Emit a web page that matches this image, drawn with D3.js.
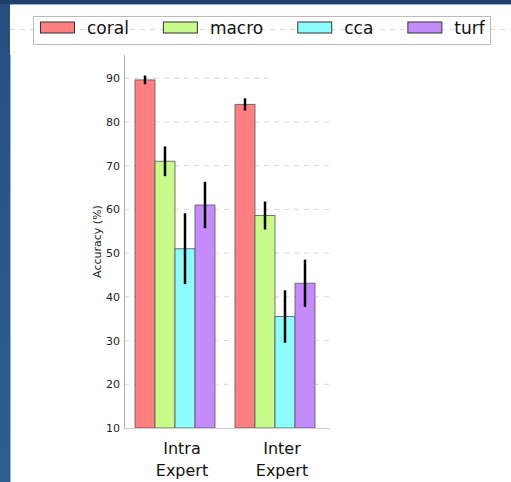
<!DOCTYPE html>
<html>
<head>
<meta charset="utf-8">
<script src="https://cdn.jsdelivr.net/npm/d3@7"></script>
<style>
  html, body { margin: 0; padding: 0; background: #fff; }
  svg { display: block; font-family: "DejaVu Sans", sans-serif; }
</style>
</head>
<body>
<div id="chart"></div>
<script>
// data
var categories = ["Intra Expert", "Inter Expert"];
var seriesNames = ["coral", "macro", "cca", "turf"];
var seriesColors = ["#ff8080", "#c8fa8c", "#8cfcfc", "#c48cfa"];
var intraValues = [89.6, 71.0, 51.0, 61.0];
var intraErrors = [1.0, 3.4, 8.1, 5.3];
var interValues = [84.0, 58.6, 35.5, 43.1];
var interErrors = [1.4, 3.2, 6.0, 5.4];
var yTicks = [10, 20, 30, 40, 50, 60, 70, 80, 90];

var width = 511, height = 482;

var rows = [];
[intraValues, interValues].forEach(function (vals, gi) {
    var errs = gi === 0 ? intraErrors : interErrors;
    vals.forEach(function (v, si) {
        rows.push({ cat: categories[gi], series: seriesNames[si], value: v, err: errs[si], color: seriesColors[si] });
    });
});

var svg = d3.select("#chart").append("svg")
    .attr("width", width)
    .attr("height", height);

// window frame
var grad = svg.append("defs").append("linearGradient")
    .attr("id", "frameGrad").attr("x1", 0).attr("x2", 0).attr("y1", 0).attr("y2", 1);
grad.append("stop").attr("offset", 0).attr("stop-color", "#264f80");
grad.append("stop").attr("offset", 1).attr("stop-color", "#2f5e92");
svg.append("rect").attr("x", 0).attr("y", 0).attr("width", 10).attr("height", height).attr("fill", "url(#frameGrad)");
svg.append("rect").attr("x", 0).attr("y", 0).attr("width", width).attr("height", 4).attr("fill", "#1f3f66");
svg.append("rect").attr("x", 10).attr("y", 4).attr("width", width - 10).attr("height", 1).attr("fill", "#8cb4e4");
svg.append("rect").attr("x", 10).attr("y", 55).attr("width", 1).attr("height", height - 55).attr("fill", "#8cb4e4");

var plot = { left: 124, right: 330, top: 55, bottom: 428 };

var x = d3.scaleBand()
    .domain(categories)
    .range([plot.left + 1, plot.right - 5])
    .paddingInner(0.2)
    .paddingOuter(0.1);

var xInner = d3.scaleBand()
    .domain(seriesNames)
    .range([0, x.bandwidth()]);

var y = d3.scaleLinear()
    .domain([10, 95.3])
    .range([plot.bottom, plot.top]);

// grid
svg.append("g").selectAll("line")
    .data(yTicks.filter(function (t) { return t > 10; }))
    .enter().append("line")
    .attr("x1", plot.left)
    .attr("x2", function (d) { return d === 90 ? 270 : plot.right; })
    .attr("y1", function (d) { return y(d); })
    .attr("y2", function (d) { return y(d); })
    .attr("stroke", "#d8d8d8")
    .attr("stroke-width", 1)
    .attr("stroke-dasharray", "5,5");

// dashed line behind legend
svg.append("line")
    .attr("x1", 10).attr("x2", width)
    .attr("y1", 29.5).attr("y2", 29.5)
    .attr("stroke", "#d8d8d8")
    .attr("stroke-dasharray", "5,5");

// bars
var bars = svg.append("g");
bars.selectAll("rect")
    .data(rows)
    .enter().append("rect")
    .attr("x", function (d) { return x(d.cat) + xInner(d.series); })
    .attr("y", function (d) { return y(d.value); })
    .attr("width", xInner.bandwidth())
    .attr("height", function (d) { return y(10) - y(d.value); })
    .attr("fill", function (d) { return d.color; })
    .attr("stroke", "#555")
    .attr("stroke-opacity", 0.8)
    .attr("stroke-width", 1);

// error bars
bars.selectAll("line.err")
    .data(rows)
    .enter().append("line")
    .attr("class", "err")
    .attr("x1", function (d) { return x(d.cat) + xInner(d.series) + xInner.bandwidth() / 2; })
    .attr("x2", function (d) { return x(d.cat) + xInner(d.series) + xInner.bandwidth() / 2; })
    .attr("y1", function (d) { return y(d.value + d.err); })
    .attr("y2", function (d) { return y(d.value - d.err); })
    .attr("stroke", "#000")
    .attr("stroke-width", 2.5);

// axes
var yAxis = svg.append("g")
    .attr("transform", "translate(" + plot.left + ",0)")
    .call(d3.axisLeft(y).tickValues(yTicks).tickSize(0).tickPadding(4));
yAxis.select(".domain").remove();
yAxis.selectAll("text").attr("font-size", 11).attr("fill", "#222").attr("font-family", "DejaVu Sans");

svg.append("line")
    .attr("x1", plot.left + 0.5).attr("x2", plot.left + 0.5)
    .attr("y1", plot.top).attr("y2", plot.bottom)
    .attr("stroke", "#aaa");
svg.append("line")
    .attr("x1", plot.left).attr("x2", plot.right)
    .attr("y1", plot.bottom + 0.5).attr("y2", plot.bottom + 0.5)
    .attr("stroke", "#ccc");

svg.append("text")
    .attr("transform", "translate(101," + (plot.top + plot.bottom) / 2 + ") rotate(-90)")
    .attr("text-anchor", "middle")
    .attr("font-size", 11)
    .attr("fill", "#222")
    .text("Accuracy (%)");

// category labels
var catLabels = svg.append("g").selectAll("text")
    .data(categories)
    .enter().append("text")
    .attr("text-anchor", "middle")
    .attr("font-size", 16)
    .attr("fill", "#111");
catLabels.each(function (d) {
    var t = d3.select(this);
    var cx = x(d) + x.bandwidth() / 2 + 7;
    d.split(" ").forEach(function (w, i) {
        t.append("tspan").attr("x", cx).attr("y", 454 + i * 22).text(w);
    });
});

// legend
var legend = svg.append("g");
legend.append("rect")
    .attr("x", 33.5).attr("y", 16.5)
    .attr("width", 457).attr("height", 28)
    .attr("fill", "none")
    .attr("stroke", "#bbb");
var lx = 40;
seriesNames.forEach(function (name, i) {
    legend.append("rect")
        .attr("x", lx + 0.5).attr("y", 22)
        .attr("width", 34).attr("height", 11)
        .attr("fill", seriesColors[i])
        .attr("stroke", "#333");
    var t = legend.append("text")
        .attr("x", lx + 47)
        .attr("y", 34)
        .attr("font-size", 17)
        .attr("fill", "#111")
        .text(name);
    lx = lx + 47 + t.node().getComputedTextLength() + 34;
});
</script>
</body>
</html>
